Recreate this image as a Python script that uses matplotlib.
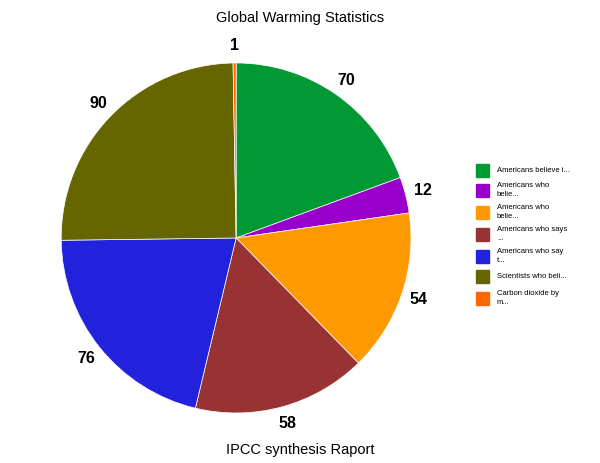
import matplotlib
matplotlib.use('Agg')
import matplotlib.pyplot as plt
from matplotlib.patches import Rectangle

plt.rcParams['font.family'] = ['Liberation Sans', 'DejaVu Sans']

# data
labels = ['Americans believe i...', 'Americans who\nbelie...', 'Americans who\nbelie...',
          'Americans who says\n...', 'Americans who say\nt...', 'Scientists who beli...',
          'Carbon dioxide by\nm...']
values = [70, 12, 54, 58, 76, 90, 1]
colors = ['#009933', '#9900cc', '#ff9900', '#993333', '#2222dd', '#666600', '#ff6600']

fig = plt.figure(figsize=(6, 4.63), dpi=100)
ax = fig.add_axes([0.102, 0.108, 0.583, 0.756])

wedges, texts = ax.pie(values, colors=colors, startangle=90, counterclock=False,
                       labels=[str(v) for v in values], labeldistance=1.1,
                       wedgeprops=dict(linewidth=0.5, edgecolor='white'),
                       textprops=dict(fontsize=11.5, fontweight='bold', color='black'))
for t in texts:
    t.set_ha('center')
    t.set_va('center')
ax.set_aspect('auto')
ax.set_xlim(-1, 1)
ax.set_ylim(-1, 1)

fig.text(0.5, 0.961, 'Global Warming Statistics', ha='center', va='center', fontsize=10.5)
fig.text(0.5, 0.028, 'IPCC synthesis Raport', ha='center', va='center', fontsize=10.5)

# legend drawn by hand
ys = [170, 190, 212, 234, 256, 276, 298]
for lab, col, y in zip(labels, colors, ys):
    fig.patches.append(Rectangle((476 / 600, 1 - (y + 7) / 463), 13 / 600, 13 / 463,
                                 transform=fig.transFigure, color=col))
    fig.text(497 / 600, 1 - y / 463, lab, ha='left', va='center', fontsize=5.5,
             linespacing=1.3)

fig.savefig('out.png', dpi=100)
